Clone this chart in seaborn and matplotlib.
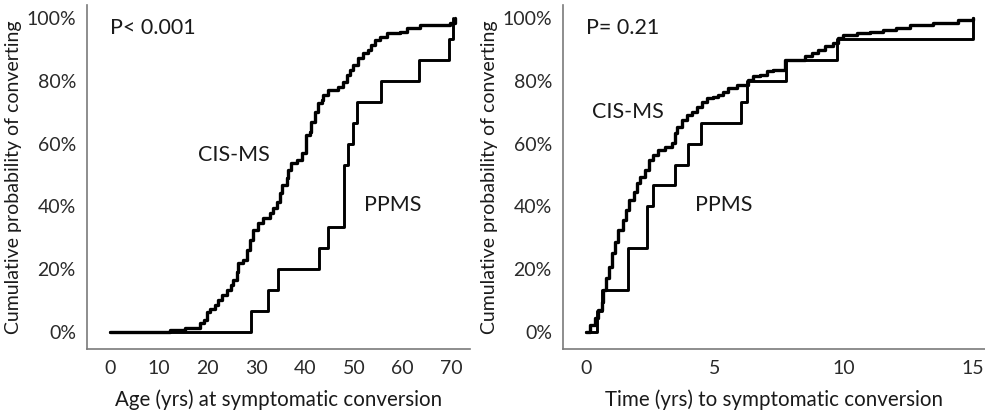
import matplotlib
matplotlib.use("Agg")
import matplotlib.pyplot as plt
import seaborn as sns
import pandas as pd
from matplotlib.ticker import PercentFormatter

# ---------------- data ----------------
# Left panel: age at symptomatic conversion
age_cis_x = [0, 12.3, 15.4, 18.4, 19.3, 19.8, 20.5, 21.5, 22.2, 22.9, 23.9, 24.9, 25.3,
             26.0, 26.3, 27.3, 28.0, 28.7, 29.4, 30.4, 31.4, 32.8, 33.5, 34.2, 34.8,
             35.2, 36.2, 36.5, 37.2, 38.3, 39.3, 40.2, 41.0, 41.3, 42.0, 42.7, 43.4,
             43.7, 44.7, 46.8, 47.8, 48.5, 49.2, 49.9, 50.9, 51.9, 52.9, 53.6, 54.3,
             55.3, 56.7, 59.4, 60.8, 63.5, 69.7, 70.7]
age_cis_y = [0, 0.5, 1.1, 2.7, 3.7, 6.4, 7.4, 8.5, 10.1, 11.7, 13.3, 14.9, 16.5,
             19.1, 21.8, 22.9, 26.1, 29.3, 32.4, 34.6, 36.2, 37.8, 39.4, 41.5, 44.1,
             46.8, 48.9, 51.6, 53.7, 54.8, 56.9, 62.8, 63.8, 67.0, 70.2, 72.9, 73.9,
             75.5, 77.1, 78.2, 79.8, 81.9, 83.5, 85.1, 87.2, 88.8, 89.9, 91.5, 93.1,
             94.1, 95.2, 95.7, 96.8, 97.9, 98.5, 100.0]
age_pp_x = [0, 29.0, 32.4, 34.5, 42.9, 44.7, 48.0, 48.8, 49.8, 50.7, 55.5, 63.3, 69.5, 70.3]
age_pp_y = [0, 6.7, 13.3, 20.0, 26.7, 33.3, 53.3, 60.0, 66.7, 73.3, 80.0, 86.7, 93.3, 100.0]

# Right panel: time to symptomatic conversion
time_cis_x = [0, 0.17, 0.36, 0.49, 0.62, 0.68, 0.79, 0.92, 1.01, 1.14, 1.26, 1.43, 1.56,
              1.69, 1.85, 1.97, 2.10, 2.30, 2.46, 2.62, 2.81, 3.07, 3.33, 3.46, 3.52,
              3.72, 3.91, 4.10, 4.30, 4.49, 4.68, 4.94, 5.14, 5.33, 5.52, 5.85, 6.30,
              6.49, 6.75, 7.00, 7.26, 7.72, 8.49, 8.75, 9.00, 9.26, 9.59, 9.78, 9.97,
              10.5, 11.0, 11.5, 12.0, 12.55, 13.46, 14.4, 15.0]
time_cis_y = [0, 2.1, 4.3, 6.9, 9.6, 13.3, 17.0, 20.7, 25.0, 28.7, 32.4, 35.6, 38.8,
              42.0, 44.7, 47.3, 49.5, 51.6, 54.8, 56.4, 58.0, 59.0, 60.1, 63.3, 65.4,
              67.6, 69.1, 70.2, 71.8, 73.4, 74.5, 75.0, 75.5, 76.6, 77.7, 78.7, 80.3,
              81.4, 81.9, 83.0, 83.5, 86.7, 87.8, 88.8, 89.9, 91.0, 92.0, 93.6, 94.7,
              95.2, 95.7, 96.3, 96.8, 97.9, 98.4, 99.5, 100.0]
time_pp_x = [0, 0.45, 0.62, 1.65, 2.36, 2.60, 3.46, 3.95, 4.45, 6.00, 6.26, 7.75, 9.74, 15.0]
time_pp_y = [0, 6.7, 13.3, 26.7, 40.0, 46.7, 53.3, 60.0, 66.7, 73.3, 80.0, 86.7, 93.3, 100.0]

y_ticks = [0, 20, 40, 60, 80, 100]
left_xticks = [0, 10, 20, 30, 40, 50, 60, 70]
right_xticks = [0, 5, 10, 15]
left_xlabel = "Age (yrs) at symptomatic conversion"
right_xlabel = "Time (yrs) to symptomatic conversion"
ylabel = "Cumulative probability of converting"

# ---------------- style ----------------
sns.set_style("white")
plt.rcParams["font.family"] = ["Lato", "DejaVu Sans"]
TXT = "#1a1a1a"
SPINE = "#7a7a7a"

fig = plt.figure(figsize=(9.85, 4.18), dpi=100)
axL = fig.add_axes([87 / 985, 69 / 418, 383 / 985, 344 / 418])
axR = fig.add_axes([563 / 985, 69 / 418, 422 / 985, 344 / 418])


def draw(ax, xc, yc, xp, yp):
    dc = pd.DataFrame({"x": xc, "y": yc})
    dp = pd.DataFrame({"x": xp, "y": yp})
    sns.lineplot(data=dc, x="x", y="y", ax=ax, drawstyle="steps-post",
                 estimator=None, color="black", lw=2.4)
    sns.lineplot(data=dp, x="x", y="y", ax=ax, drawstyle="steps-post",
                 estimator=None, color="black", lw=2.1)


draw(axL, age_cis_x, age_cis_y, age_pp_x, age_pp_y)
draw(axR, time_cis_x, time_cis_y, time_pp_x, time_pp_y)

axL.set_xlim(-4.7, 73.8)
axR.set_xlim(-0.88, 15.46)

for ax, xt, xl in [(axL, left_xticks, left_xlabel), (axR, right_xticks, right_xlabel)]:
    ax.set_ylim(-5.5, 104.2)
    ax.set_yticks(y_ticks)
    ax.yaxis.set_major_formatter(PercentFormatter(decimals=0))
    ax.set_xticks(xt)
    ax.set_xlabel(xl, fontsize=14.8, color=TXT, labelpad=9)
    ax.set_ylabel(ylabel, fontsize=14, color=TXT, labelpad=3)
    for s in ["top", "right"]:
        ax.spines[s].set_visible(False)
    for s in ["left", "bottom"]:
        ax.spines[s].set_color(SPINE)
        ax.spines[s].set_linewidth(1.2)
    ax.tick_params(axis="both", direction="out", length=4, width=1,
                   color="#999999", labelsize=14, labelcolor="#2a2a2a", pad=4)
    ax.set_facecolor("white")

axL.text(0, 97, "P< 0.001", fontsize=15.5, color=TXT, ha="left", va="center")
axL.text(25.5, 56.4, "CIS-MS", fontsize=15.5, color=TXT, ha="center", va="center")
axL.text(57.9, 40.4, "PPMS", fontsize=15.5, color=TXT, ha="center", va="center")
axR.text(0, 97, "P= 0.21", fontsize=15.5, color=TXT, ha="left", va="center")
axR.text(1.64, 70.2, "CIS-MS", fontsize=15.5, color=TXT, ha="center", va="center")
axR.text(5.35, 40.4, "PPMS", fontsize=15.5, color=TXT, ha="center", va="center")

fig.savefig("out.png", dpi=100, facecolor="white")
